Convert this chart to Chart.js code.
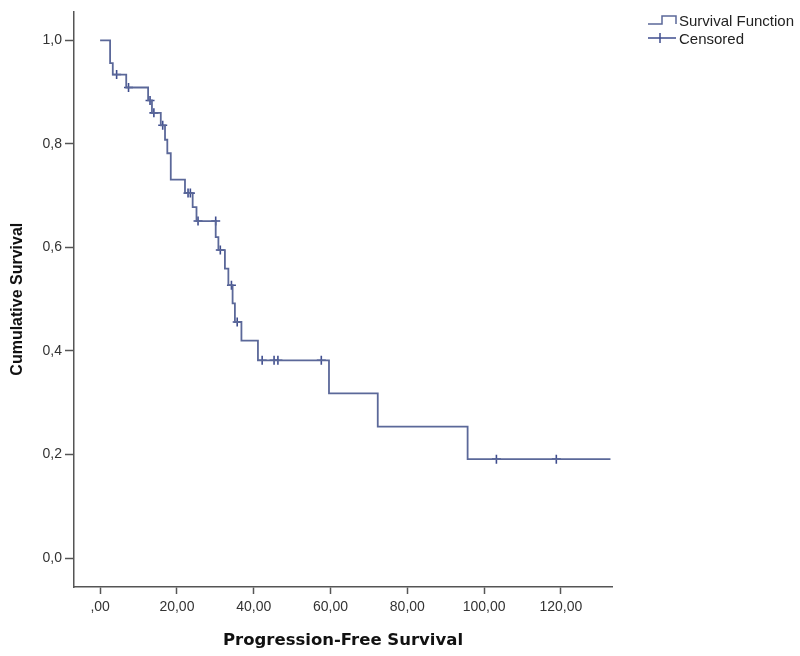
<!DOCTYPE html>
<html>
<head>
<meta charset="utf-8">
<script src="https://cdn.jsdelivr.net/npm/chart.js@4"></script>
<style>
  body { margin: 0; background: #fff; }
  #wrap { position: relative; width: 800px; height: 656px; }
  #legend { position: absolute; left: 646px; top: 11px; font: 15px "Liberation Sans", Arial, sans-serif; color: #222; }
  #legend div { display: flex; align-items: center; height: 18px; }
  #legend svg { margin-right: 1px; }
</style>
</head>
<body>
<div id="wrap">
  <canvas id="kmChart" width="800" height="656"></canvas>
  <div id="legend">
    <div><svg width="32" height="14"><path d="M2 11 H16 V3 H30 V11" fill="none" stroke="#5b6899" stroke-width="1.5"/></svg>Survival Function</div>
    <div><svg width="32" height="14"><path d="M2 7 H30 M14 2 V12" fill="none" stroke="#3f4d8e" stroke-width="1.5"/></svg>Censored</div>
  </div>
</div>
<script>
// step curve: time of each drop and survival after it
const stepTimes = [0, 2.6, 3.3, 6.8, 12.5, 13.5, 15.8, 16.9, 17.5, 18.4, 22.1, 24.1, 25.1, 30.1, 30.8, 32.5, 33.4, 34.5, 35.1, 36.8, 41.1, 59.6, 72.3, 95.7, 132.9];
const stepSurvival = [1.0, 0.956, 0.934, 0.909, 0.884, 0.860, 0.836, 0.808, 0.782, 0.731, 0.705, 0.678, 0.651, 0.620, 0.595, 0.559, 0.527, 0.492, 0.456, 0.420, 0.382, 0.318, 0.254, 0.191, 0.191];

// censored marks
const censorTimes = [4.3, 7.4, 13.0, 14.0, 16.3, 22.9, 23.5, 25.5, 30.1, 31.3, 34.2, 35.7, 42.2, 45.3, 46.3, 57.6, 103.2, 118.8];
const censorSurvival = [0.934, 0.909, 0.884, 0.860, 0.836, 0.705, 0.705, 0.651, 0.651, 0.595, 0.527, 0.456, 0.382, 0.382, 0.382, 0.382, 0.191, 0.191];

const xTicks = [0, 20, 40, 60, 80, 100, 120];
const yTicks = [0, 0.2, 0.4, 0.6, 0.8, 1.0];

const fmtX = v => v === 0 ? ',00' : v.toFixed(2).replace('.', ',');
const fmtY = v => v.toFixed(1).replace('.', ',');

const ctx = document.getElementById('kmChart').getContext('2d');
new Chart(ctx, {
  type: 'line',
  data: {
    datasets: [{
      label: 'Survival Function',
      data: stepTimes.map((t, i) => ({ x: t, y: stepSurvival[i] })),
      borderColor: '#5b6899',
      borderWidth: 1.8,
      pointRadius: 0,
      stepped: 'before',
      fill: false,
      clip: 4
    }, {
      label: 'Censored',
      type: 'scatter',
      data: censorTimes.map((t, i) => ({ x: t, y: censorSurvival[i] })),
      pointStyle: 'cross',
      pointRadius: 4.5,
      pointBorderWidth: 1.6,
      borderColor: '#3f4d8e',
      backgroundColor: '#3f4d8e'
    }]
  },
  options: {
    responsive: false,
    animation: false,
    layout: { padding: { top: 0, right: 188, bottom: 0, left: 0 } },
    plugins: { legend: { display: false }, tooltip: { enabled: false } },
    scales: {
      x: {
        type: 'linear',
        min: -6.8,
        max: 133.3,
        afterBuildTicks: s => { s.ticks = xTicks.map(v => ({ value: v })); },
        afterFit: s => { s.height = 69; },
        ticks: { callback: v => fmtX(v), color: '#333', padding: 5, maxRotation: 0,
                 font: { family: '"Liberation Sans", Arial', size: 14 } },
        grid: { drawOnChartArea: false, drawTicks: true, tickLength: 7, color: '#555', tickWidth: 1.5 },
        border: { display: true, color: '#555', width: 1.5 },
        title: { display: true, text: 'Progression-Free Survival', color: '#111',
                 padding: { top: 4, bottom: 5 },
                 font: { family: '"DejaVu Sans"', size: 16.5, weight: 'bold' } }
      },
      y: {
        type: 'linear',
        min: -0.056,
        max: 1.056,
        afterBuildTicks: s => { s.ticks = yTicks.map(v => ({ value: v })); },
        afterFit: s => { s.width = 74; },
        ticks: { callback: v => fmtY(v), color: '#333', padding: 3,
                 font: { family: '"Liberation Sans", Arial', size: 14 } },
        grid: { drawOnChartArea: false, drawTicks: true, tickLength: 9, color: '#555', tickWidth: 1.5 },
        border: { display: true, color: '#555', width: 1.5 },
        title: { display: true, text: 'Cumulative Survival', color: '#111',
                 padding: { top: 8, bottom: 0 },
                 font: { family: '"Liberation Sans", Arial', size: 16, weight: 'bold' } }
      }
    }
  }
});
</script>
</body>
</html>
